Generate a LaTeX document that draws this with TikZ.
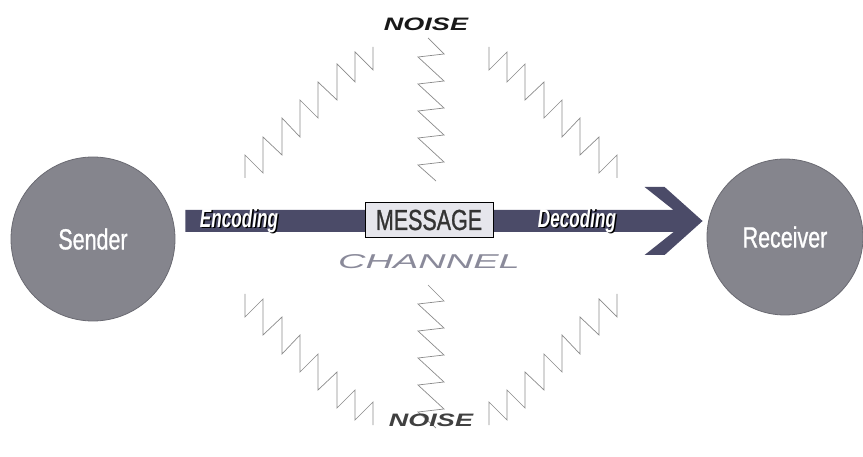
\documentclass[tikz,border=0pt]{standalone}
\usepackage{fontspec}
\usetikzlibrary{positioning,calc}
\newfontfamily\narrowfont[FakeStretch=0.74,FakeBold=1]{Liberation Sans}
\newfontfamily\slimfont[FakeStretch=0.66]{Liberation Sans}
\newfontfamily\widefont[FakeStretch=1.5]{Liberation Sans}
\newfontfamily\widerfont[FakeStretch=1.9]{Liberation Sans}
\definecolor{discgray}{HTML}{85858D}
\definecolor{discedge}{HTML}{6A6A72}
\definecolor{barslate}{HTML}{4B4B68}
\definecolor{noisegray}{HTML}{8A8A8A}
\definecolor{channelgray}{HTML}{8A8A9A}
\definecolor{boxfill}{HTML}{E6E6EC}
\newcommand{\dropshadow}[1]{\makebox[0pt][l]{\hspace{1.4pt}\raisebox{-1.4pt}{\color{black}#1}}\color{white}#1}
\tikzset{
  station/.style={circle,fill=discgray,draw=discedge,line width=.8pt,text=white,inner sep=0pt,
    font=\narrowfont\fontsize{29}{29}\selectfont},
  msgbox/.style={draw=black,fill=boxfill,line width=1pt,minimum width=128pt,minimum height=35pt,inner sep=0pt,
    text=black!80,font=\narrowfont\fontsize{29}{29}\selectfont},
  codelabel/.style={inner sep=0pt,font=\slimfont\bfseries\itshape\fontsize{26}{26}\selectfont},
  noiselabel/.style={inner sep=0pt,font=\widefont\bfseries\itshape\fontsize{18}{18}\selectfont},
  channellabel/.style={inner sep=0pt,text=channelgray,font=\widerfont\itshape\fontsize{20}{20}\selectfont},
  noiseline/.style={draw=noisegray,line width=.7pt},
  channelbar/.style={fill=barslate},
  sawtooth/.pic={
    \draw[noiseline] (-186,-58) -- (-186,-81) -- (-168,-63) -- (-168,-99) -- (-149,-81) -- (-149,-118)
      -- (-131,-99) -- (-131,-136) -- (-113,-118) -- (-113,-154) -- (-94,-136) -- (-94,-172)
      -- (-76,-154) -- (-76,-184) -- (-58,-166) -- (-58,-189);
  },
  ripple/.pic={
    \draw[noiseline] (-3,-198) -- (13,-182) -- (-13,-179) -- (13,-155) -- (-13,-152) -- (13,-128)
      -- (-13,-125) -- (13,-101) -- (-13,-98) -- (13,-74) -- (-13,-71) -- (5,-55);
  },
}

\begin{document}
\begin{tikzpicture}[x=1pt,y=-1pt]
    \useasboundingbox (0,0) rectangle (863,457);
    \node[station,minimum size=164pt] (sender) at (93,239) {Sender};
    \node[station,minimum size=156pt] (receiver) at (785,237) {Receiver};
    % channel arrow
    \coordinate (tail) at ($(sender.east)+(10,-18)$);
    \coordinate (tip) at ($(receiver.west)+(-4,-16)$);
    \fill[channelbar] ($(tail)+(0,-11)$) -- ($(tip)+(-29,-11)$) -- ($(tip)+(-58,-34)$) -- ($(tip)+(-38,-34)$)
      -- (tip) -- ($(tip)+(-38,34)$) -- ($(tip)+(-58,34)$) -- ($(tip)+(-29,11)$) -- ($(tail)+(0,11)$) -- cycle;
    \node[codelabel] (encode) at (239,221) {\dropshadow{Encoding}};
    \node[codelabel] (decode) at (577,221) {\dropshadow{Decoding}};
    \node[msgbox] (msg) at (429,220) {MESSAGE};
    \node[channellabel,below=16pt of msg] (channel) {CHANNEL};
    % noise
    \coordinate (hub) at (431,236);
    \pic at (hub) {sawtooth};
    \pic[xscale=-1] at (hub) {sawtooth};
    \pic[yscale=-1] at (hub) {sawtooth};
    \pic[scale=-1] at (hub) {sawtooth};
    \pic at (hub) {ripple};
    \pic at ($(hub)+(0,247)$) {ripple};
    \node[noiselabel,text=black!90] (noisetop) at (426,24) {NOISE};
    \node[noiselabel,text=black!75] (noisebottom) at (431,420) {NOISE};
\end{tikzpicture}
\end{document}
